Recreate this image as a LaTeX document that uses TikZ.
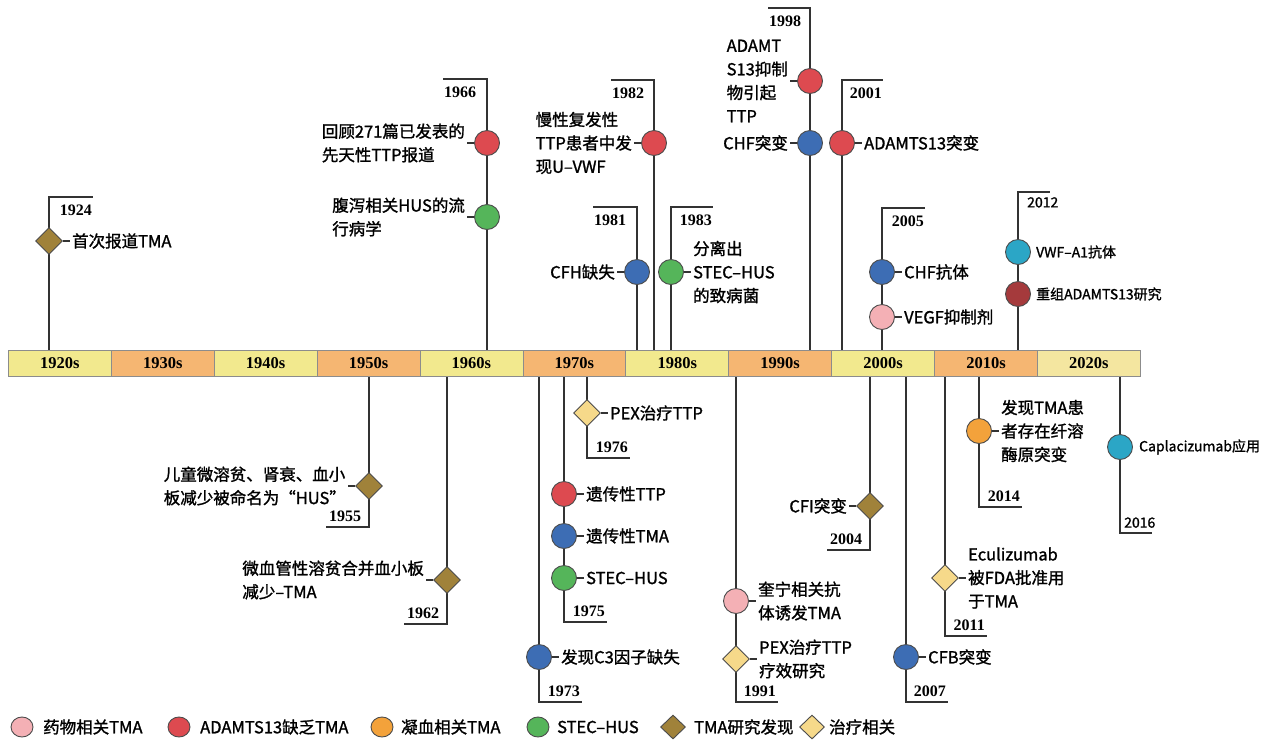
\documentclass[tikz,border=0pt]{standalone}
\usepackage{fontspec}
\setmainfont{Liberation Serif}
\newfontfamily\cjk{Noto Sans CJK SC}[FakeBold=1.3]
\usetikzlibrary{shapes.geometric,positioning,backgrounds}
\definecolor{cred}{HTML}{DD4A50}
\definecolor{cblue}{HTML}{3D6DB4}
\definecolor{cgreen}{HTML}{55B55A}
\definecolor{cpink}{HTML}{F4B0B5}
\definecolor{corange}{HTML}{F3A23B}
\definecolor{ccyan}{HTML}{2BA6C6}
\definecolor{cdred}{HTML}{A53A3C}
\definecolor{colive}{HTML}{A0823A}
\definecolor{clight}{HTML}{F6D98A}
\definecolor{byel}{HTML}{F2E98E}
\definecolor{bora}{HTML}{F5B672}
\definecolor{byel2}{HTML}{F4E6A0}
\definecolor{stemc}{HTML}{333333}
\tikzset{
 stem/.style={draw=stemc, line width=1.4pt},
 tick/.style={draw=stemc, line width=1.2pt},
 dot/.style={circle, draw=black!70, line width=0.9pt, minimum size=25pt, inner sep=0},
 dia/.style={diamond, aspect=1, draw=black!70, line width=0.9pt, minimum size=27pt, inner sep=0},
 lbl/.style={font=\cjk\fontsize{16.5}{23.5}\selectfont, align=left, inner sep=0},
 slbl/.style={font=\cjk\fontsize{14}{18}\selectfont, align=left, inner sep=0},
 yr/.style={font=\bfseries\fontsize{16}{16}\selectfont, inner sep=0},
 syr/.style={font=\cjk\fontsize{14}{14}\selectfont, inner sep=0},
 dec/.style={draw=black!45, line width=0.8pt, minimum width=102.9pt, minimum height=26pt, inner sep=0, font=\bfseries\fontsize{16.5}{16.5}\selectfont},
 leg/.style={ellipse, draw=black!70, line width=0.9pt, minimum width=22pt, minimum height=20pt, inner sep=0},
 legd/.style={diamond, draw=black!70, line width=0.9pt, minimum width=25pt, minimum height=24pt, inner sep=0},
 ltxt/.style={font=\cjk\fontsize{16.5}{16.5}\selectfont, inner sep=0, anchor=west},
}
\begin{document}
\begin{tikzpicture}[x=1pt,y=-1pt]
\useasboundingbox (0,0) rectangle (1271,742);
% decade bar
\foreach \i/\dd/\c in {0/1920/byel,1/1930/bora,2/1940/byel,3/1950/bora,4/1960/byel,5/1970/bora,6/1980/byel,7/1990/bora,8/2000/byel,9/2010/bora,10/2020/byel2}{
  \node[dec, fill=\c, anchor=north west] (d\dd) at ({8+102.9*\i},350) {\dd s};
}
% ---------- above the bar ----------
% 1924
\node[dia, fill=colive] (e24) at (49,241) {};
\node[lbl, right=9pt of e24] (l24) {首次报道TMA};
\coordinate (t24) at (49,197); \coordinate (b24) at (93,197);
\node[yr, anchor=north east] (y24) at ([xshift=-1pt,yshift=-8pt]b24) {1924};
% 1966
\node[dot, fill=cred] (e66a) at (487,143) {};
\node[dot, fill=cgreen] (e66b) at (487,217) {};
\node[lbl, left=9pt of e66a] (l66a) {回顾271篇已发表的\\先天性TTP报道};
\node[lbl, left=9pt of e66b] (l66b) {腹泻相关HUS的流\\行病学};
\coordinate (t66) at (487,79); \coordinate (b66) at (443,79);
\node[yr, anchor=north west] (y66) at ([xshift=1pt,yshift=-8pt]b66) {1966};
% 1981
\node[dot, fill=cblue] (e81) at (637,272) {};
\node[lbl, left=9pt of e81] (l81) {CFH缺失};
\coordinate (t81) at (637,207); \coordinate (b81) at (593,207);
\node[yr, anchor=north west] (y81) at ([xshift=1pt,yshift=-8pt]b81) {1981};
% 1982
\node[dot, fill=cred] (e82) at (654,143) {};
\node[lbl, left=9pt of e82] (l82) {慢性复发性\\TTP患者中发\\现U–VWF};
\coordinate (t82) at (654,80); \coordinate (b82) at (611,80);
\node[yr, anchor=north west] (y82) at ([xshift=1pt,yshift=-8pt]b82) {1982};
% 1983
\node[dot, fill=cgreen] (e83) at (671,272) {};
\node[lbl, right=9pt of e83] (l83) {分离出\\STEC–HUS\\的致病菌};
\coordinate (t83) at (671,207); \coordinate (b83) at (713,207);
\node[yr, anchor=north east] (y83) at ([xshift=-1pt,yshift=-8pt]b83) {1983};
% 1998
\node[dot, fill=cred] (e98a) at (810,81) {};
\node[dot, fill=cblue] (e98b) at (810,143) {};
\node[lbl, left=9pt of e98a] (l98a) {ADAMT\\S13抑制\\物引起\\TTP};
\node[lbl, left=9pt of e98b] (l98b) {CHF突变};
\coordinate (t98) at (810,8); \coordinate (b98) at (768,8);
\node[yr, anchor=north west] (y98) at ([xshift=1pt,yshift=-8pt]b98) {1998};
% 2001
\node[dot, fill=cred] (e01) at (842,143) {};
\node[lbl, right=9pt of e01] (l01) {ADAMTS13突变};
\coordinate (t01) at (842,80); \coordinate (b01) at (883,80);
\node[yr, anchor=north east] (y01) at ([xshift=-1pt,yshift=-8pt]b01) {2001};
% 2005
\node[dot, fill=cblue] (e05a) at (882,272) {};
\node[dot, fill=cpink] (e05b) at (882,317) {};
\node[lbl, right=9pt of e05a] (l05a) {CHF抗体};
\node[lbl, right=9pt of e05b] (l05b) {VEGF抑制剂};
\coordinate (t05) at (882,208); \coordinate (b05) at (925,208);
\node[yr, anchor=north east] (y05) at ([xshift=-1pt,yshift=-8pt]b05) {2005};
% 2012
\node[dot, fill=ccyan] (e12a) at (1018,252) {};
\node[dot, fill=cdred] (e12b) at (1018,294) {};
\node[slbl, right=5pt of e12a] (l12a) {VWF–A1抗体};
\node[slbl, right=5pt of e12b] (l12b) {重组ADAMTS13研究};
\coordinate (t12) at (1018,192); \coordinate (b12) at (1050,192);
\node[syr, anchor=north west] (y12) at ([xshift=9pt,yshift=-5pt]t12) {2012};
% ---------- below the bar ----------
% 1955
\node[dia, fill=colive] (e55) at (369,486) {};
\node[lbl, left=9pt of e55] (l55) {儿童微溶贫、肾衰、血小\\板减少被命名为“HUS”};
\coordinate (t55) at (369,527); \coordinate (b55) at (326,527);
\node[yr, anchor=south west] (y55) at ([xshift=3pt,yshift=5pt]b55) {1955};
% 1962
\node[dia, fill=colive] (e62) at (447,580) {};
\node[lbl, left=9pt of e62] (l62) {微血管性溶贫合并血小板\\减少–TMA};
\coordinate (t62) at (447,624); \coordinate (b62) at (404,624);
\node[yr, anchor=south west] (y62) at ([xshift=3pt,yshift=5pt]b62) {1962};
% 1973
\node[dot, fill=cblue] (e73) at (539,657) {};
\node[lbl, right=9pt of e73] (l73) {发现C3因子缺失};
\coordinate (t73) at (539,702); \coordinate (b73) at (582,702);
\node[yr, anchor=south east] (y73) at ([xshift=-2pt,yshift=5pt]b73) {1973};
% 1975
\node[dot, fill=cred] (e75a) at (564,494) {};
\node[dot, fill=cblue] (e75b) at (564,536) {};
\node[dot, fill=cgreen] (e75c) at (564,578) {};
\node[lbl, right=9pt of e75a] (l75a) {遗传性TTP};
\node[lbl, right=9pt of e75b] (l75b) {遗传性TMA};
\node[lbl, right=9pt of e75c] (l75c) {STEC–HUS};
\coordinate (t75) at (564,622); \coordinate (b75) at (607,622);
\node[yr, anchor=south east] (y75) at ([xshift=-2pt,yshift=5pt]b75) {1975};
% 1976
\node[dia, fill=clight] (e76) at (587,413) {};
\node[lbl, right=9pt of e76] (l76) {PEX治疗TTP};
\coordinate (t76) at (587,458); \coordinate (b76) at (630,458);
\node[yr, anchor=south east] (y76) at ([xshift=-2pt,yshift=5pt]b76) {1976};
% 1991
\node[dot, fill=cpink] (e91a) at (736,601) {};
\node[dia, fill=clight] (e91b) at (736,659) {};
\node[lbl, right=9pt of e91a] (l91a) {奎宁相关抗\\体诱发TMA};
\node[lbl, right=9pt of e91b] (l91b) {PEX治疗TTP\\疗效研究};
\coordinate (t91) at (736,702); \coordinate (b91) at (778,702);
\node[yr, anchor=south east] (y91) at ([xshift=-2pt,yshift=5pt]b91) {1991};
% 2004
\node[dia, fill=colive] (e04) at (870,506) {};
\node[lbl, left=9pt of e04] (l04) {CFI突变};
\coordinate (t04) at (870,550); \coordinate (b04) at (827,550);
\node[yr, anchor=south west] (y04) at ([xshift=3pt,yshift=5pt]b04) {2004};
% 2007
\node[dot, fill=cblue] (e07) at (906,657) {};
\node[lbl, right=9pt of e07] (l07) {CFB突变};
\coordinate (t07) at (906,702); \coordinate (b07) at (948,702);
\node[yr, anchor=south east] (y07) at ([xshift=-2pt,yshift=5pt]b07) {2007};
% 2011
\node[dia, fill=clight] (e11) at (945,578) {};
\node[lbl, right=9pt of e11] (l11) {Eculizumab\\被FDA批准用\\于TMA};
\coordinate (t11) at (945,636); \coordinate (b11) at (987,636);
\node[yr, anchor=south east] (y11) at ([xshift=-2pt,yshift=5pt]b11) {2011};
% 2014
\node[dot, fill=corange] (e14) at (979,431) {};
\node[lbl, right=9pt of e14] (l14) {发现TMA患\\者存在纤溶\\酶原突变};
\coordinate (t14) at (979,507); \coordinate (b14) at (1022,507);
\node[yr, anchor=south east] (y14) at ([xshift=-2pt,yshift=5pt]b14) {2014};
% 2016
\node[dot, fill=ccyan] (e16) at (1120,447) {};
\node[slbl, right=6pt of e16] (l16) {Caplacizumab应用};
\coordinate (t16) at (1120,533); \coordinate (b16) at (1152,533);
\node[syr, anchor=south west] (y16) at ([xshift=4pt,yshift=5pt]t16) {2016};
% ---------- stems, brackets, ticks ----------
\begin{scope}[on background layer]
\fill[white] (0,0) rectangle (1271,742);
\draw[stem] (e24 |- d1920.north) -- (t24) -- (b24);
\draw[stem] (e66a |- d1960.north) -- (t66) -- (b66);
\draw[stem] (e81 |- d1980.north) -- (t81) -- (b81);
\draw[stem] (e82 |- d1980.north) -- (t82) -- (b82);
\draw[stem] (e83 |- d1980.north) -- (t83) -- (b83);
\draw[stem] (e98a |- d1990.north) -- (t98) -- (b98);
\draw[stem] (e01 |- d2000.north) -- (t01) -- (b01);
\draw[stem] (e05a |- d2000.north) -- (t05) -- (b05);
\draw[stem] (e12a |- d2010.north) -- (t12) -- (b12);
\draw[stem] (e55 |- d1950.south) -- (t55) -- (b55);
\draw[stem] (e62 |- d1960.south) -- (t62) -- (b62);
\draw[stem] (e73 |- d1970.south) -- (t73) -- (b73);
\draw[stem] (e75a |- d1970.south) -- (t75) -- (b75);
\draw[stem] (e76 |- d1970.south) -- (t76) -- (b76);
\draw[stem] (e91a |- d1990.south) -- (t91) -- (b91);
\draw[stem] (e04 |- d2000.south) -- (t04) -- (b04);
\draw[stem] (e07 |- d2000.south) -- (t07) -- (b07);
\draw[stem] (e11 |- d2010.south) -- (t11) -- (b11);
\draw[stem] (e14 |- d2010.south) -- (t14) -- (b14);
\draw[stem] (e16 |- d2020.south) -- (t16) -- (b16);
\end{scope}
\foreach \a/\b in {e24/l24,e66a/l66a,e66b/l66b,e81/l81,e82/l82,e83/l83,e98a/l98a,e98b/l98b,e01/l01,e05a/l05a,e05b/l05b,e55/l55,e62/l62,e73/l73,e75a/l75a,e75b/l75b,e75c/l75c,e76/l76,e91a/l91a,e91b/l91b,e04/l04,e07/l07,e11/l11,e14/l14}{
  \draw[tick, shorten >=2pt] (\a) -- (\b);
}
% ---------- legend ----------
\node[leg, fill=cpink] (g1) at (22,727) {};
\node[ltxt] (h1) at (43,727) {药物相关TMA};
\node[leg, fill=cred] (g2) at (179,727) {};
\node[ltxt] (h2) at (200,727) {ADAMTS13缺乏TMA};
\node[leg, fill=corange] (g3) at (382,727) {};
\node[ltxt] (h3) at (401,727) {凝血相关TMA};
\node[leg, fill=cgreen] (g4) at (538,727) {};
\node[ltxt] (h4) at (557,727) {STEC–HUS};
\node[legd, fill=colive] (g5) at (673,727) {};
\node[ltxt] (h5) at (694,727) {TMA研究发现};
\node[legd, fill=clight] (g6) at (812,727) {};
\node[ltxt] (h6) at (829,727) {治疗相关};
\end{tikzpicture}
\end{document}
